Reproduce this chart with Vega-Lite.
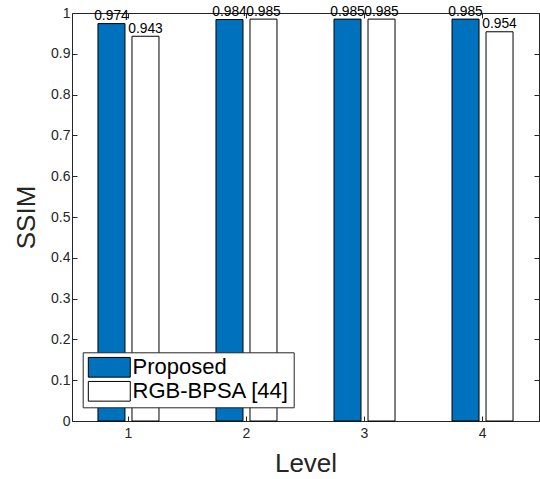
{
  "$schema": "https://vega.github.io/schema/vega-lite/v6.json",
  "width": 467,
  "height": 408,
  "autosize": "none",
  "padding": {"left": 72, "top": 13, "right": 1, "bottom": 58},
  "background": "white",
  "config": {
    "view": {"stroke": null},
    "font": "Liberation Sans",
    "axis": {"labelFont": "Liberation Sans", "titleFont": "Liberation Sans"},
    "legend": {"labelFont": "Liberation Sans"},
    "text": {"font": "Liberation Sans"}
  },
  "data": {
    "values": [
      {"level": "1", "method": "Proposed", "ssim": 0.974},
      {"level": "1", "method": "RGB-BPSA [44]", "ssim": 0.943},
      {"level": "2", "method": "Proposed", "ssim": 0.984},
      {"level": "2", "method": "RGB-BPSA [44]", "ssim": 0.985},
      {"level": "3", "method": "Proposed", "ssim": 0.985},
      {"level": "3", "method": "RGB-BPSA [44]", "ssim": 0.985},
      {"level": "4", "method": "Proposed", "ssim": 0.985},
      {"level": "4", "method": "RGB-BPSA [44]", "ssim": 0.954}
    ]
  },
  "resolve": {"axis": {"x": "independent", "y": "independent"}},
  "layer": [
    {
      "mark": {"type": "bar", "stroke": "#000000", "strokeWidth": 1},
      "encoding": {
        "x": {
          "field": "level", "type": "ordinal",
          "scale": {"paddingInner": 0.483, "paddingOuter": 0.22},
          "axis": {
            "orient": "bottom", "title": "Level", "labelAngle": 0,
            "labelFontSize": 14, "labelColor": "#262626", "labelPadding": 10,
            "tickSize": -5, "tickColor": "#262626", "domainColor": "#262626",
            "titleFontSize": 26, "titleFontWeight": "normal", "titleColor": "#262626",
            "titleBaseline": "alphabetic", "titleY": 50.7, "grid": false
          }
        },
        "xOffset": {
          "field": "method", "type": "nominal",
          "sort": ["Proposed", "RGB-BPSA [44]"],
          "scale": {"paddingInner": 0.206, "paddingOuter": 0}
        },
        "y": {
          "field": "ssim", "type": "quantitative",
          "scale": {"domain": [0, 1], "nice": false},
          "axis": {
            "orient": "left", "title": "SSIM",
            "values": [0, 0.1, 0.2, 0.3, 0.4, 0.5, 0.6, 0.7, 0.8, 0.9, 1],
            "format": "~g", "labelFontSize": 14, "labelColor": "#262626", "labelPadding": 7,
            "tickSize": -5, "tickColor": "#262626", "domainColor": "#262626",
            "titleFontSize": 26, "titleFontWeight": "normal", "titleColor": "#262626",
            "titleBaseline": "alphabetic", "titleX": -37.5, "grid": false
          }
        },
        "fill": {
          "field": "method", "type": "nominal",
          "scale": {"domain": ["Proposed", "RGB-BPSA [44]"], "range": ["#0072BD", "#FFFFFF"]},
          "legend": {
            "orient": "none", "legendX": 10.7, "legendY": 339.3, "title": null,
            "symbolType": "M-2.13,-1H2.13V1H-2.13Z", "symbolSize": 388,
            "symbolOffset": 11.6, "labelOffset": 12.3,
            "symbolStrokeColor": "#000000", "symbolStrokeWidth": 1, "symbolOpacity": 1,
            "labelFontSize": 22, "labelColor": "#000000", "labelFont": "Liberation Sans",
            "padding": 4, "rowPadding": 0, "strokeColor": "#262626", "fillColor": "white"
          }
        }
      }
    },
    {
      "mark": {"type": "text", "baseline": "alphabetic", "dy": -3.5, "fontSize": 13.8, "color": "#000000", "font": "Liberation Sans"},
      "encoding": {
        "x": {"field": "level", "type": "ordinal", "axis": null},
        "xOffset": {"field": "method", "type": "nominal", "sort": ["Proposed", "RGB-BPSA [44]"]},
        "y": {"field": "ssim", "type": "quantitative", "axis": null},
        "text": {"field": "ssim", "type": "quantitative", "format": ".3f"}
      }
    },
    {
      "mark": {"type": "bar", "opacity": 0},
      "encoding": {
        "x": {
          "field": "level", "type": "ordinal",
          "axis": {"orient": "top", "title": null, "labels": false, "tickSize": -5, "tickColor": "#262626", "domainColor": "#262626", "grid": false}
        },
        "xOffset": {"field": "method", "type": "nominal", "sort": ["Proposed", "RGB-BPSA [44]"]},
        "y": {
          "field": "ssim", "type": "quantitative",
          "axis": {"orient": "right", "title": null, "labels": false,
            "values": [0, 0.1, 0.2, 0.3, 0.4, 0.5, 0.6, 0.7, 0.8, 0.9, 1],
            "tickSize": -5, "tickColor": "#262626", "domainColor": "#262626", "grid": false}
        }
      }
    }
  ]
}
